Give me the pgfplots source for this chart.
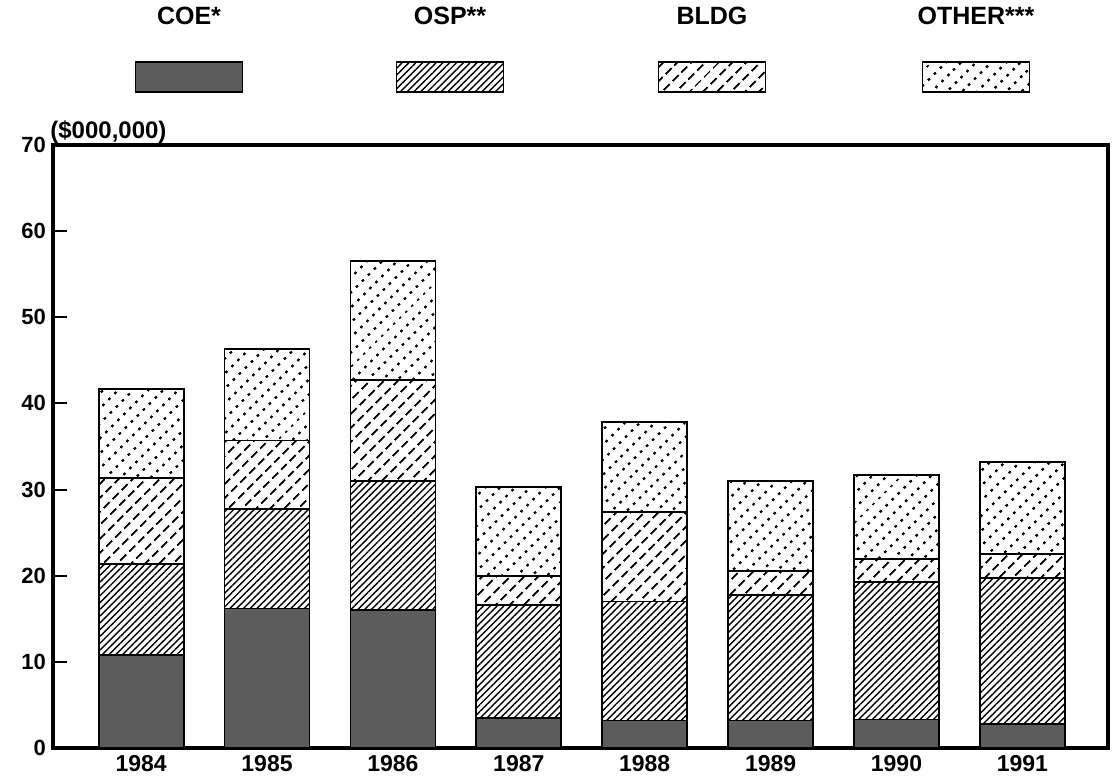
\documentclass[border=0pt]{standalone}
\usepackage{fontspec}
\setmainfont{Liberation Sans}
\usepackage{pgfplots}
\pgfplotsset{compat=1.18}
\usetikzlibrary{patterns.meta}

\pgfdeclarepattern{
  name=bldgdash, type=uncolored,
  bottom left={\pgfpoint{0pt}{0pt}},
  top right={\pgfpoint{6.4pt}{5.2pt}},
  tile size={\pgfpoint{6.4pt}{5.2pt}},
  tile transformation={\pgftransformrotate{45}},
  code={
    \pgfsetlinewidth{1pt}
    \pgfpathmoveto{\pgfpoint{0pt}{2.6pt}}
    \pgfpathlineto{\pgfpoint{4.8pt}{2.6pt}}
    \pgfusepath{stroke}
  }
}
\pgfdeclarepattern{
  name=otherdots, type=uncolored,
  bottom left={\pgfpoint{0pt}{0pt}},
  top right={\pgfpoint{4.2pt}{5.4pt}},
  tile size={\pgfpoint{4.2pt}{5.4pt}},
  tile transformation={\pgftransformrotate{45}},
  code={
    \pgfpathcircle{\pgfpoint{2.1pt}{2.7pt}}{0.75pt}
    \pgfusepath{fill}
  }
}

\begin{document}
\begin{tikzpicture}
\begin{axis}[
  name=ax,
  at={(0,0)}, anchor=south west,
  scale only axis,
  width=527.5pt, height=301.5pt,
  ybar stacked,
  bar width=0.675,
  xmin=-0.7, xmax=7.68,
  ymin=0, ymax=70,
  ytick={0,10,...,70},
  xtick={0,1,2,3,4,5,6,7},
  xticklabels={1984,1985,1986,1987,1988,1989,1990,1991},
  major x tick style={draw=none},
  ytick pos=left,
  tick align=inside,
  major tick length=7pt,
  ytick style={line width=1pt, black},
  axis line style={line width=1.6pt},
  /pgf/number format/assume math mode=true,
  yticklabel style={font=\fontsize{11}{13}\selectfont\bfseries},
  xticklabel style={font=\fontsize{11.5}{13}\selectfont\bfseries},
]
\addplot[fill=black!64, draw=black, line width=0.9pt] coordinates {(0,10.8) (1,16.2) (2,16.0) (3,3.5) (4,3.2) (5,3.2) (6,3.3) (7,2.8)};
\addplot[pattern={Lines[angle=45,distance=2.4pt,line width=0.7pt]}, pattern color=black, draw=black, line width=0.9pt] coordinates {(0,10.6) (1,11.5) (2,15.0) (3,13.1) (4,13.8) (5,14.6) (6,16.0) (7,16.9)};
\addplot[pattern=bldgdash, pattern color=black, draw=black, line width=0.9pt] coordinates {(0,9.9) (1,8.0) (2,11.7) (3,3.4) (4,10.4) (5,2.7) (6,2.6) (7,2.8)};
\addplot[pattern=otherdots, pattern color=black, draw=black, line width=0.9pt] coordinates {(0,10.4) (1,10.6) (2,13.8) (3,10.3) (4,10.4) (5,10.5) (6,9.8) (7,10.7)};
\end{axis}
% unit label
\node[anchor=base west, inner sep=0pt, font=\fontsize{12}{14}\selectfont\bfseries] at ([shift={(-1.5pt,3pt)}]ax.north west) {(\$000,000)};
% legend
\node[font=\fontsize{12.5}{14}\selectfont\bfseries] at ([shift={(68pt,64.5pt)}]ax.north west) {COE*};
\node[font=\fontsize{12.5}{14}\selectfont\bfseries] at ([shift={(198.5pt,64.5pt)}]ax.north west) {OSP**};
\node[font=\fontsize{12.5}{14}\selectfont\bfseries] at ([shift={(329.5pt,64.5pt)}]ax.north west) {BLDG};
\node[font=\fontsize{12.5}{14}\selectfont\bfseries] at ([shift={(461.5pt,64.5pt)}]ax.north west) {OTHER***};
\draw[fill=black!64, line width=0.9pt] ([shift={(41.25pt,26.5pt)}]ax.north west) rectangle ++(53.5pt,15pt);
\draw[pattern={Lines[angle=45,distance=2.4pt,line width=0.7pt]}, pattern color=black, line width=0.9pt] ([shift={(171.75pt,26.5pt)}]ax.north west) rectangle ++(53.5pt,15pt);
\draw[pattern=bldgdash, pattern color=black, line width=0.9pt] ([shift={(302.75pt,26.5pt)}]ax.north west) rectangle ++(53.5pt,15pt);
\draw[pattern=otherdots, pattern color=black, line width=0.9pt] ([shift={(434.75pt,26.5pt)}]ax.north west) rectangle ++(53.5pt,15pt);
\pgfresetboundingbox
\path ([shift={(-26.5pt,-18pt)}]ax.south west) rectangle ([shift={(5.5pt,72.5pt)}]ax.north east);
\end{tikzpicture}
\end{document}
